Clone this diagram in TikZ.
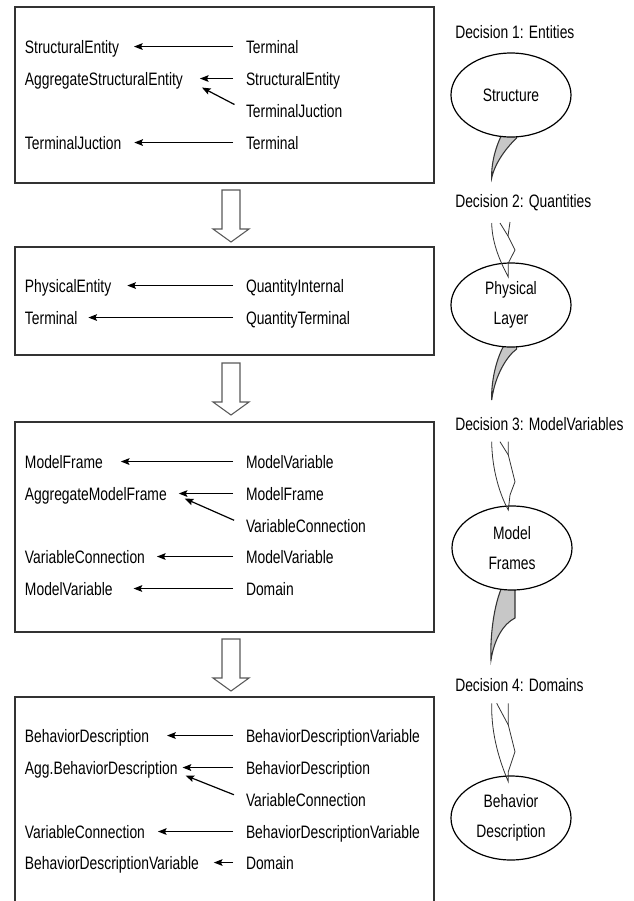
\documentclass[tikz,border=0pt]{standalone}
\usepackage{fontspec}
\setmainfont{Liberation Sans}[FakeStretch=0.77]
\usetikzlibrary{shapes.geometric,arrows.meta}
\begin{document}
\begin{tikzpicture}[x=0.75pt,y=-0.75pt,
  font=\fontsize{13.5pt}{16pt}\selectfont,
  lbl/.style={anchor=base west,inner sep=0pt,outer sep=0pt,text height=9.7pt,text depth=0pt},
  boxframe/.style={draw=black!80,line width=1pt},
  arr/.style={-{Stealth[length=6.5pt,width=5pt,inset=1.2pt]},line width=0.9pt,shorten <=9.75pt},
  hollow/.style={draw=black!65,line width=0.8pt,fill=white},
  tail/.style={draw=black!80,fill=black!22,line width=0.8pt},
  wtail/.style={draw=black!80,line width=0.6pt},
  oval/.style={ellipse,draw=black,line width=0.9pt,fill=white,minimum width=90pt,minimum height=63pt,inner sep=0pt,align=center,font=\fontsize{13.5pt}{23pt}\selectfont},
  dec/.style={anchor=base west,inner sep=0pt},
  downarr/.pic={\draw[hollow] (-9,0) -- (9,0) -- (9,39) -- (18,39) -- (0,52) -- (-18,39) -- (-9,39) -- cycle;}]
\useasboundingbox (0,0) rectangle (633,901);
\clip (0,0) rectangle (633,901);

% boxes
\draw[boxframe] (15,7) rectangle (434,183);
\draw[boxframe] (15,247) rectangle (434,355);
\draw[boxframe] (15,422) rectangle (434,632);
\draw[boxframe] (15,697) rectangle (434,915);

% hollow arrows
\pic at (231,190) {downarr};
\pic at (231,363) {downarr};
\pic at (231,639) {downarr};

% box 1
\node[lbl] (a1l) at (25,53) {StructuralEntity};
\node[lbl] (a1r) at (246,53) {Terminal};
\node[lbl] (a2l) at (25,85) {AggregateStructuralEntity};
\node[lbl] (a2r) at (246,85) {StructuralEntity};
\node[lbl] (a3r) at (246,117) {TerminalJuction};
\node[lbl] (a4l) at (25,149) {TerminalJuction};
\node[lbl] (a4r) at (246,149) {Terminal};
\draw[arr] (a1r.west) -- ([xshift=11.25pt]a1l.east);
\draw[arr] (a2r.west) -- ([xshift=12.75pt]a2l.east);
\draw[arr] (a3r.west) -- ([xshift=14.25pt,yshift=-6.75pt]a2l.east);
\draw[arr] (a4r.west) -- ([xshift=9.75pt]a4l.east);

% box 2
\node[lbl] (b1l) at (25,292) {PhysicalEntity};
\node[lbl] (b1r) at (246,292) {QuantityInternal};
\node[lbl] (b2l) at (25,324) {Terminal};
\node[lbl] (b2r) at (246,324) {QuantityTerminal};
\draw[arr] (b1r.west) -- ([xshift=12pt]b1l.east);
\draw[arr] (b2r.west) -- ([xshift=8.25pt]b2l.east);

% box 3
\node[lbl] (c1l) at (25,468) {ModelFrame};
\node[lbl] (c1r) at (246,468) {ModelVariable};
\node[lbl] (c2l) at (25,500) {AggregateModelFrame};
\node[lbl] (c2r) at (246,500) {ModelFrame};
\node[lbl] (c3r) at (246,532) {VariableConnection};
\node[lbl] (c4l) at (25,563) {VariableConnection};
\node[lbl] (c4r) at (246,563) {ModelVariable};
\node[lbl] (c5l) at (25,595) {ModelVariable};
\node[lbl] (c5r) at (246,595) {Domain};
\draw[arr] (c1r.west) -- ([xshift=13.5pt]c1l.east);
\draw[arr] (c2r.west) -- ([xshift=9pt]c2l.east);
\draw[arr] (c3r.west) -- ([xshift=13.5pt,yshift=-3.75pt]c2l.east);
\draw[arr] (c4r.west) -- ([xshift=9pt]c4l.east);
\draw[arr] (c5r.west) -- ([xshift=15.75pt]c5l.east);

% box 4
\node[lbl] (d1l) at (25,742) {BehaviorDescription};
\node[lbl] (d1r) at (246,742) {BehaviorDescriptionVariable};
\node[lbl] (d2l) at (25,774) {Agg.BehaviorDescription};
\node[lbl] (d2r) at (246,774) {BehaviorDescription};
\node[lbl] (d3r) at (246,806) {VariableConnection};
\node[lbl] (d4l) at (25,838) {VariableConnection};
\node[lbl] (d4r) at (246,838) {BehaviorDescriptionVariable};
\node[lbl] (d5l) at (25,869) {BehaviorDescriptionVariable};
\node[lbl] (d5r) at (246,869) {Domain};
\draw[arr] (d1r.west) -- ([xshift=13.5pt]d1l.east);
\draw[arr] (d2r.west) -- ([xshift=3.75pt]d2l.east);
\draw[arr] (d3r.west) -- ([xshift=6pt,yshift=-6pt]d2l.east);
\draw[arr] (d4r.west) -- ([xshift=9.75pt]d4l.east);
\draw[arr] (d5r.west) -- ([xshift=11.25pt]d5l.east);

% decision labels
\node[dec] (dec1) at (455,38) {Decision 1: Entities};
\node[dec] (dec2) at (455,207) {Decision 2: Quantities};
\node[dec] (dec3) at (455,430) {Decision 3: ModelVariables};
\node[dec] (dec4) at (455,691) {Decision 4: Domains};

% gray tails
\filldraw[tail] (505,129) .. controls (498,140) and (491,160) .. (491.7,178)
  .. controls (495,162) and (508,146) .. (516.7,138) -- (516.7,126) -- cycle;
\filldraw[tail] (506.7,341) .. controls (497,355) and (491,380) .. (491.7,400)
  .. controls (495,375) and (507,356) .. (516.7,349) -- (516.7,338) -- cycle;
\filldraw[tail] (503.3,584) .. controls (493,605) and (490,640) .. (491,660)
  .. controls (494,640) and (503,624) .. (515,618) -- (515,584) -- cycle;

% ellipses
\node[oval] (e1) at (511,95) {Structure};
\node[oval] (e2) at (511,305) {Physical\\Layer};
\node[oval] (e3) at (512,548) {Model\\Frames};
\node[oval] (e4) at (511,818) {Behavior\\Description};

% white tails
\draw[wtail] (491.7,223) .. controls (492,245) and (502,265) .. (508.3,277)
  -- (508.3,263) -- (515,250) -- (508,236) -- (510,222);
\draw[wtail] (500,223) -- (508,236);
\draw[wtail] (491.7,441.7) .. controls (492,470) and (500,495) .. (508.3,510)
  -- (510,495) -- (515,481.7) -- (508.3,455) -- (508.3,441.7);
\draw[wtail] (500,441.7) -- (508.3,455);
\draw[wtail] (491.7,703.3) .. controls (491,735) and (500,762) .. (508.3,781.7)
  -- (508.3,771.7) -- (515,751.7) -- (508.3,725) -- (508.3,703.3);
\draw[wtail] (496.7,703.3) -- (508.3,725);
\end{tikzpicture}
\end{document}
